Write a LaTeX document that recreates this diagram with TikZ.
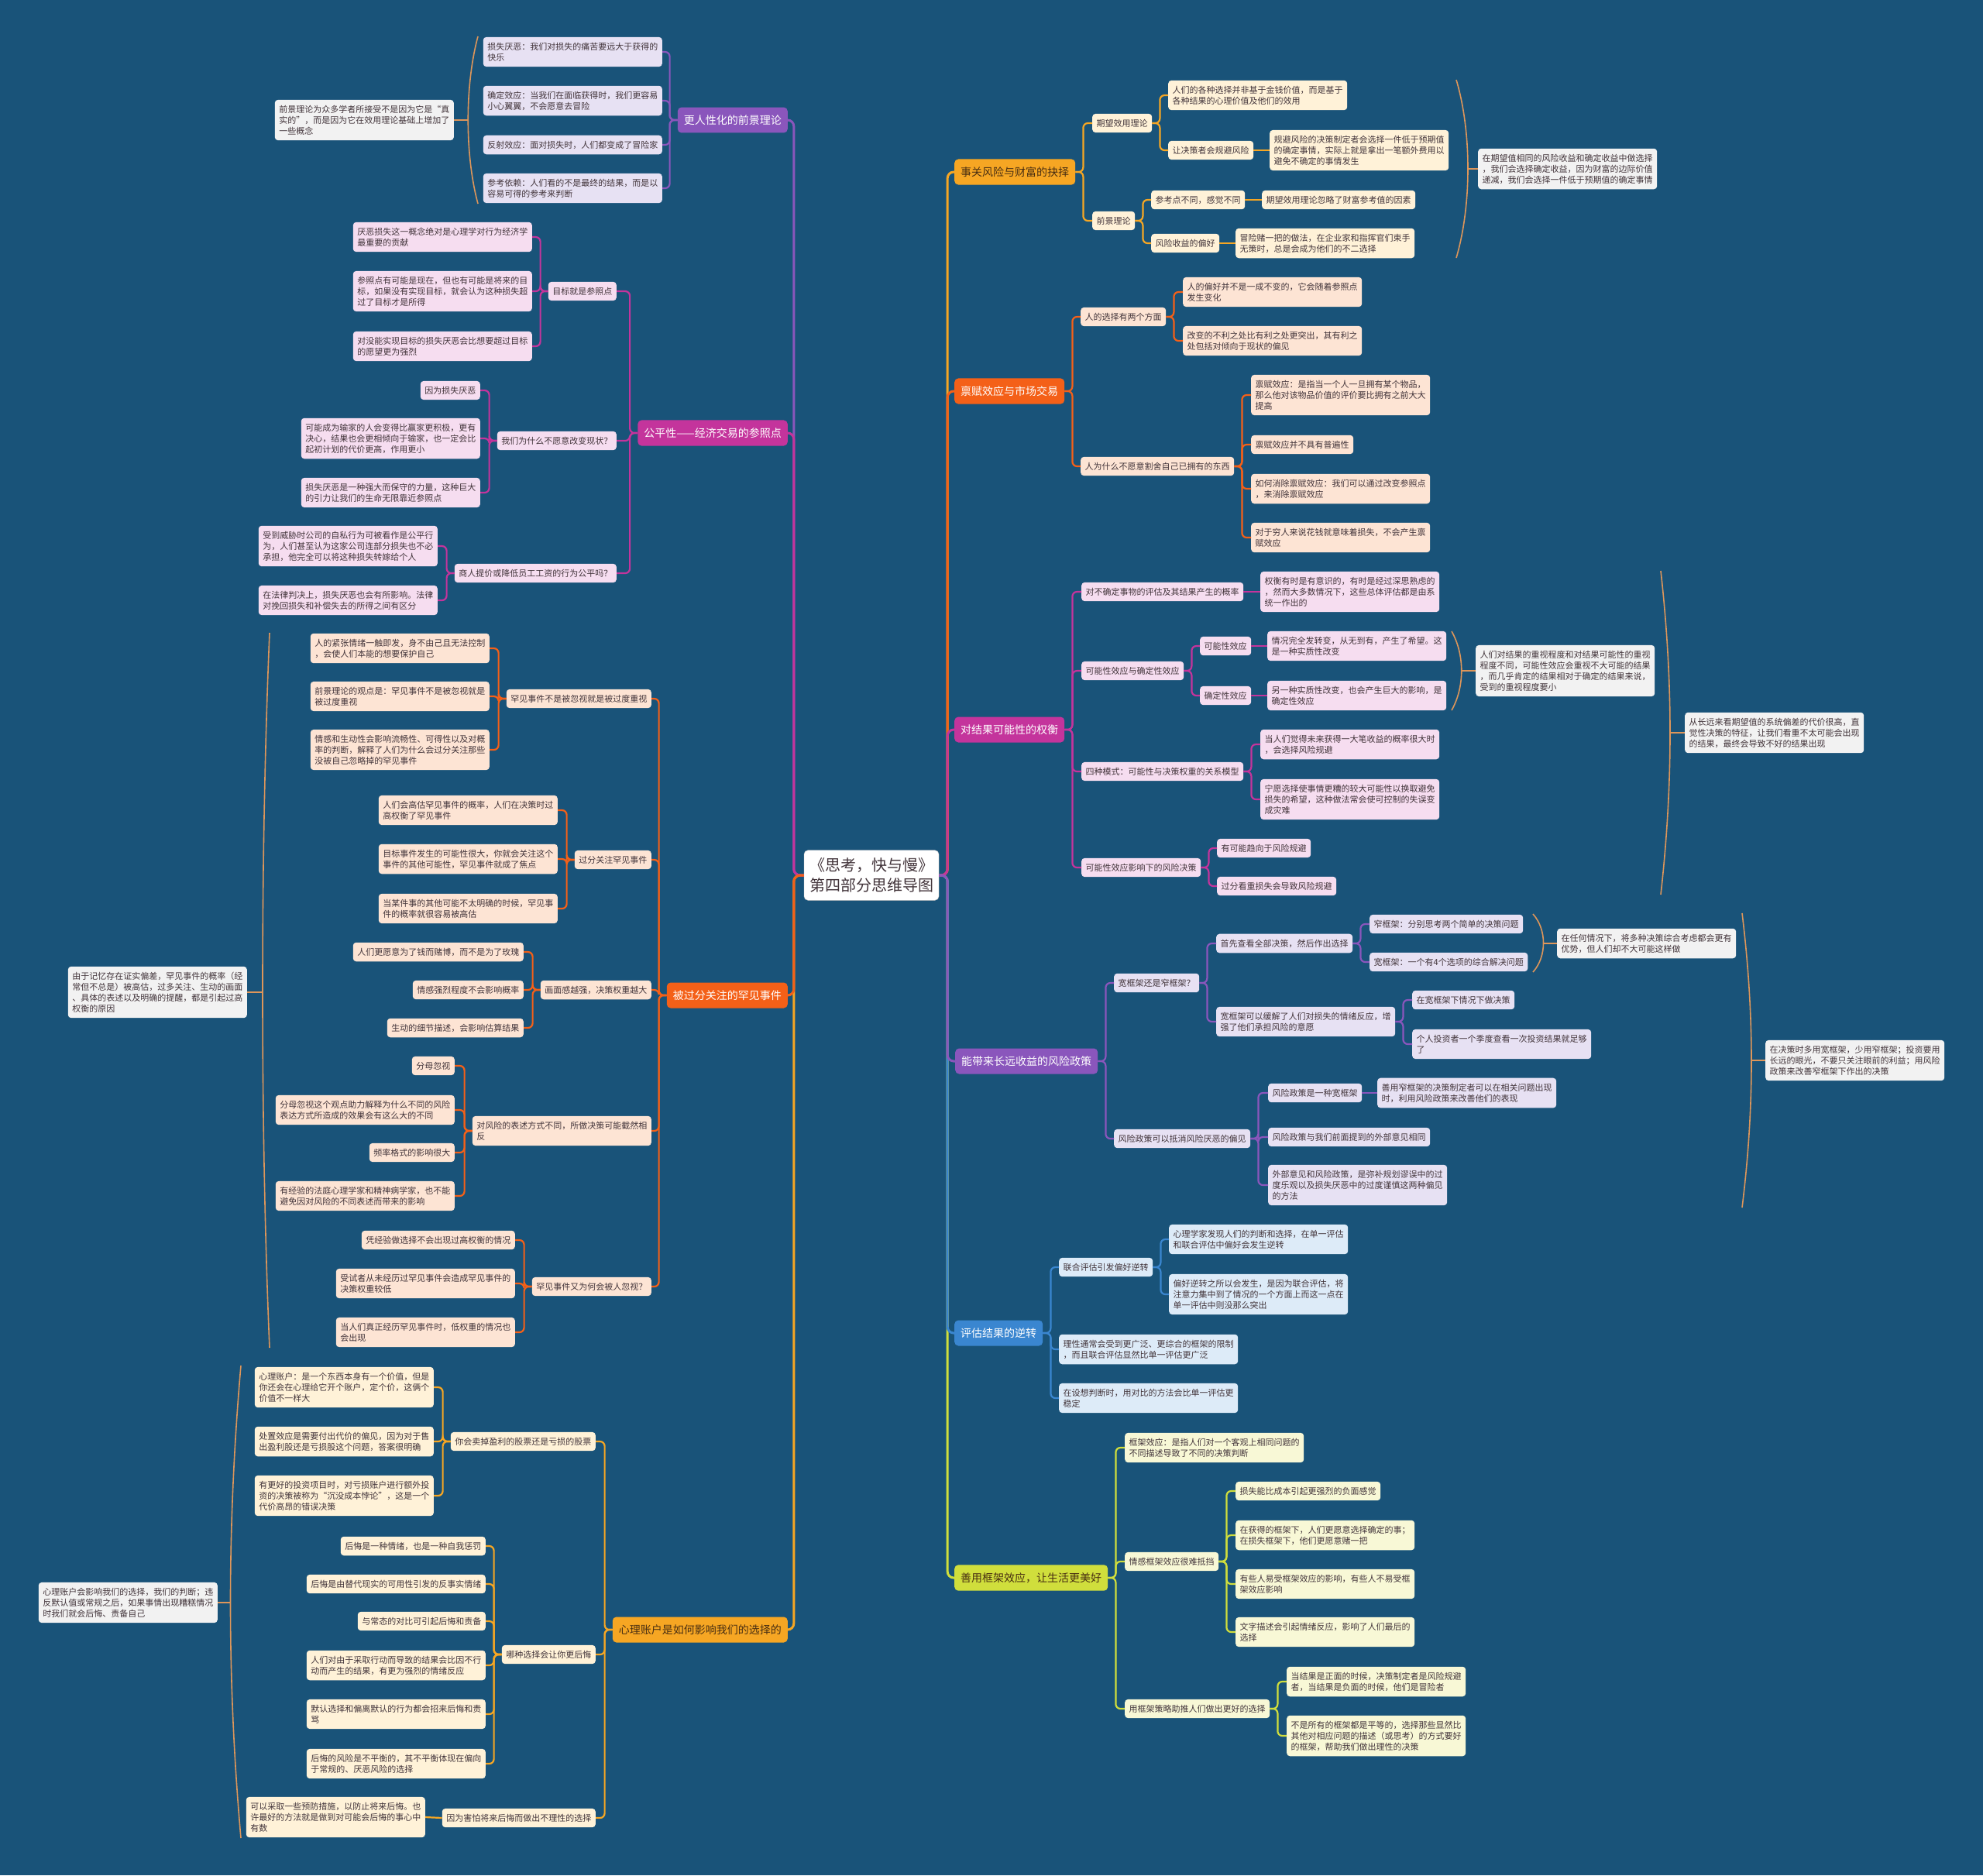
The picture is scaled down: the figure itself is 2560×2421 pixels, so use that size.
\documentclass[tikz,border=0pt]{standalone}
\usepackage{fontspec}
\setmainfont{Noto Sans CJK SC}

\begin{document}
\begin{tikzpicture}[x=1pt,y=-1pt,
  leaf/.style={rounded corners=4pt,align=left,inner xsep=5.5pt,inner ysep=7pt,
    font=\fontsize{11}{14}\selectfont,text=ink},
  head/.style={rounded corners=5pt,inner xsep=8pt,inner ysep=10pt,
    font=\fontsize{14}{17}\selectfont},
  note/.style={leaf,fill=notefill},
  link/.style={line width=2.2pt,rounded corners=6pt},
  trunk/.style={line width=3pt,rounded corners=8pt},
  brace/.style={draw=bracecol,line width=1.6pt}]
\definecolor{bg}{RGB}{25,83,121}
\definecolor{ink}{RGB}{66,52,58}
\definecolor{darkink}{RGB}{72,46,18}
\definecolor{purp}{RGB}{138,86,188}
\definecolor{purpfill}{RGB}{231,225,243}
\definecolor{mag}{RGB}{196,52,156}
\definecolor{magfill}{RGB}{246,221,240}
\definecolor{ored}{RGB}{244,96,24}
\definecolor{oredfill}{RGB}{253,228,212}
\definecolor{amber}{RGB}{246,166,35}
\definecolor{amberfill}{RGB}{255,242,216}
\definecolor{blue}{RGB}{58,134,208}
\definecolor{bluefill}{RGB}{221,235,248}
\definecolor{lime}{RGB}{208,222,60}
\definecolor{limefill}{RGB}{248,248,214}
\definecolor{notefill}{RGB}{242,242,242}
\definecolor{bracecol}{RGB}{222,150,90}

% Background and fixed frame.
\fill[bg] (0,0) rectangle (2560,2421);
\useasboundingbox (0,0) rectangle (2560,2421);

% Root topic in the middle.
\node[draw=gray!50,fill=white,rounded corners=5pt,align=center,text=ink,
  inner xsep=7pt,inner ysep=10pt,font=\fontsize{20}{26}\selectfont]
  (c) at (1125,1130) {《思考，快与慢》\\第四部分思维导图};

% ---------------- left half ----------------
\begin{scope}[every node/.append style={anchor=east}]
% Prospect theory.
\node[head,fill=purp,text=white] (pM) at (1017,155) {更人性化的前景理论};
\node[leaf,fill=purpfill] (pA1) at (855,67) {损失厌恶：我们对损失的痛苦要远大于获得的\\快乐};
\node[leaf,fill=purpfill] (pA2) at (855,130) {确定效应：当我们在面临获得时，我们更容易\\小心翼翼，不会愿意去冒险};
\node[leaf,fill=purpfill] (pA3) at (855,187) {反射效应：面对损失时，人们都变成了冒险家};
\node[leaf,fill=purpfill] (pA4) at (855,243) {参考依赖：人们看的不是最终的结果，而是以\\容易可得的参考来判断};
\node[note] (pN) at (586,155) {前景理论为众多学者所接受不是因为它是“真\\实的”，而是因为它在效用理论基础上增加了\\一些概念};

% Fairness.
\node[head,fill=mag,text=white] (gM) at (1017,559) {公平性——经济交易的参照点};
\node[leaf,fill=magfill] (gA) at (796,376) {目标就是参照点};
\node[leaf,fill=magfill] (gA1) at (687,306) {厌恶损失这一概念绝对是心理学对行为经济学\\最重要的贡献};
\node[leaf,fill=magfill] (gA2) at (687,376) {参照点有可能是现在，但也有可能是将来的目\\标，如果没有实现目标，就会认为这种损失超\\过了目标才是所得};
\node[leaf,fill=magfill] (gA3) at (687,447) {对没能实现目标的损失厌恶会比想要超过目标\\的愿望更为强烈};
\node[leaf,fill=magfill] (gB) at (796,569) {我们为什么不愿意改变现状？};
\node[leaf,fill=magfill] (gB1) at (620,504) {因为损失厌恶};
\node[leaf,fill=magfill] (gB2) at (620,566) {可能成为输家的人会变得比赢家更积极，更有\\决心，结果也会更相倾向于输家，也一定会比\\起初计划的代价更高，作用更小};
\node[leaf,fill=magfill] (gB3) at (620,636) {损失厌恶是一种强大而保守的力量，这种巨大\\的引力让我们的生命无限靠近参照点};
\node[leaf,fill=magfill] (gC) at (796,740) {商人提价或降低员工工资的行为公平吗？};
\node[leaf,fill=magfill] (gC1) at (565,705) {受到威胁时公司的自私行为可被看作是公平行\\为，人们甚至认为这家公司连部分损失也不必\\承担，他完全可以将这种损失转嫁给个人};
\node[leaf,fill=magfill] (gC2) at (565,775) {在法律判决上，损失厌恶也会有所影响。法律\\对挽回损失和补偿失去的所得之间有区分};

% Rare events.
\node[head,fill=ored,text=white] (oM) at (1017,1285) {被过分关注的罕见事件};
\node[leaf,fill=oredfill] (oA) at (841,902) {罕见事件不是被忽视就是被过度重视};
\node[leaf,fill=oredfill] (oA1) at (632,837) {人的紧张情绪一触即发，身不由己且无法控制\\，会使人们本能的想要保护自己};
\node[leaf,fill=oredfill] (oA2) at (632,899) {前景理论的观点是：罕见事件不是被忽视就是\\被过度重视};
\node[leaf,fill=oredfill] (oA3) at (632,968) {情感和生动性会影响流畅性、可得性以及对概\\率的判断，解释了人们为什么会过分关注那些\\没被自己忽略掉的罕见事件};
\node[leaf,fill=oredfill] (oB) at (841,1110) {过分关注罕见事件};
\node[leaf,fill=oredfill] (oB1) at (720,1046) {人们会高估罕见事件的概率，人们在决策时过\\高权衡了罕见事件};
\node[leaf,fill=oredfill] (oB2) at (720,1109) {目标事件发生的可能性很大，你就会关注这个\\事件的其他可能性，罕见事件就成了焦点};
\node[leaf,fill=oredfill] (oB3) at (720,1173) {当某件事的其他可能不太明确的时候，罕见事\\件的概率就很容易被高估};
\node[leaf,fill=oredfill] (oC) at (841,1278) {画面感越强，决策权重越大};
\node[leaf,fill=oredfill] (oC1) at (676,1229) {人们更愿意为了钱而赌博，而不是为了玫瑰};
\node[leaf,fill=oredfill] (oC2) at (676,1278) {情感强烈程度不会影响概率};
\node[leaf,fill=oredfill] (oC3) at (676,1327) {生动的细节描述，会影响估算结果};
\node[leaf,fill=oredfill] (oD) at (841,1460) {对风险的表述方式不同，所做决策可能截然相\\反};
\node[leaf,fill=oredfill] (oD1) at (587,1376) {分母忽视};
\node[leaf,fill=oredfill] (oD2) at (587,1433) {分母忽视这个观点助力解释为什么不同的风险\\表达方式所造成的效果会有这么大的不同};
\node[leaf,fill=oredfill] (oD3) at (587,1488) {频率格式的影响很大};
\node[leaf,fill=oredfill] (oD4) at (587,1544) {有经验的法庭心理学家和精神病学家，也不能\\避免因对风险的不同表述而带来的影响};
\node[leaf,fill=oredfill] (oE) at (841,1661) {罕见事件又为何会被人忽视？};
\node[leaf,fill=oredfill] (oE1) at (665,1601) {凭经验做选择不会出现过高权衡的情况};
\node[leaf,fill=oredfill] (oE2) at (665,1657) {受试者从未经历过罕见事件会造成罕见事件的\\决策权重较低};
\node[leaf,fill=oredfill] (oE3) at (665,1720) {当人们真正经历罕见事件时，低权重的情况也\\会出现};
\node[note] (oN) at (319,1281) {由于记忆存在证实偏差，罕见事件的概率（经\\常但不总是）被高估，过多关注、生动的画面\\、具体的表述以及明确的提醒，都是引起过高\\权衡的原因};

% Mental accounts.
\node[head,fill=amber,text=darkink] (aM) at (1017,2104) {心理账户是如何影响我们的选择的};
\node[leaf,fill=amberfill] (aA) at (769,1861) {你会卖掉盈利的股票还是亏损的股票};
\node[leaf,fill=amberfill] (aA1) at (560,1791) {心理账户：是一个东西本身有一个价值，但是\\你还会在心理给它开个账户，定个价，这俩个\\价值不一样大};
\node[leaf,fill=amberfill] (aA2) at (560,1861) {处置效应是需要付出代价的偏见，因为对于售\\出盈利股还是亏损股这个问题，答案很明确};
\node[leaf,fill=amberfill] (aA3) at (560,1931) {有更好的投资项目时，对亏损账户进行额外投\\资的决策被称为“沉没成本悖论”，这是一个\\代价高昂的错误决策};
\node[leaf,fill=amberfill] (aB) at (769,2136) {哪种选择会让你更后悔};
\node[leaf,fill=amberfill] (aB1) at (627,1996) {后悔是一种情绪，也是一种自我惩罚};
\node[leaf,fill=amberfill] (aB2) at (627,2045) {后悔是由替代现实的可用性引发的反事实情绪};
\node[leaf,fill=amberfill] (aB3) at (627,2093) {与常态的对比可引起后悔和责备};
\node[leaf,fill=amberfill] (aB4) at (627,2150) {人们对由于采取行动而导致的结果会比因不行\\动而产生的结果，有更为强烈的情绪反应};
\node[leaf,fill=amberfill] (aB5) at (627,2213) {默认选择和偏离默认的行为都会招来后悔和责\\骂};
\node[leaf,fill=amberfill] (aB6) at (627,2277) {后悔的风险是不平衡的，其不平衡体现在偏向\\于常规的、厌恶风险的选择};
\node[leaf,fill=amberfill] (aC) at (769,2347) {因为害怕将来后悔而做出不理性的选择};
\node[leaf,fill=amberfill] (aC1) at (549,2346) {可以采取一些预防措施，以防止将来后悔。也\\许最好的方法就是做到对可能会后悔的事心中\\有数};
\node[note] (aN) at (281,2069) {心理账户会影响我们的选择，我们的判断；违\\反默认值或常规之后，如果事情出现糟糕情况\\时我们就会后悔、责备自己};
\end{scope}

% ---------------- right half ----------------
\begin{scope}[every node/.append style={anchor=west}]
% Risk and wealth.
\node[head,fill=amber,text=darkink] (rM) at (1232,222) {事关风险与财富的抉择};
\node[leaf,fill=amberfill] (rA) at (1410,159) {期望效用理论};
\node[leaf,fill=amberfill] (rA1) at (1508,123) {人们的各种选择并非基于金钱价值，而是基于\\各种结果的心理价值及他们的效用};
\node[leaf,fill=amberfill] (rA2) at (1508,194) {让决策者会规避风险};
\node[leaf,fill=amberfill] (rA2a) at (1639,194) {规避风险的决策制定者会选择一件低于预期值\\的确定事情，实际上就是拿出一笔额外费用以\\避免不确定的事情发生};
\node[leaf,fill=amberfill] (rB) at (1410,285) {前景理论};
\node[leaf,fill=amberfill] (rB1) at (1486,258) {参考点不同，感觉不同};
\node[leaf,fill=amberfill] (rB1a) at (1629,258) {期望效用理论忽略了财富参考值的因素};
\node[leaf,fill=amberfill] (rB2) at (1486,314) {风险收益的偏好};
\node[leaf,fill=amberfill] (rB2a) at (1595,314) {冒险赌一把的做法，在企业家和指挥官们束手\\无策时，总是会成为他们的不二选择};
\node[note] (rN) at (1908,218) {在期望值相同的风险收益和确定收益中做选择\\，我们会选择确定收益，因为财富的边际价值\\递减，我们会选择一件低于预期值的确定事情};

% Endowment effect.
\node[head,fill=ored,text=white] (eM) at (1232,505) {禀赋效应与市场交易};
\node[leaf,fill=oredfill] (eA) at (1395,409) {人的选择有两个方面};
\node[leaf,fill=oredfill] (eA1) at (1527,377) {人的偏好并不是一成不变的，它会随着参照点\\发生变化};
\node[leaf,fill=oredfill] (eA2) at (1527,440) {改变的不利之处比有利之处更突出，其有利之\\处包括对倾向于现状的偏见};
\node[leaf,fill=oredfill] (eB) at (1395,602) {人为什么不愿意割舍自己已拥有的东西};
\node[leaf,fill=oredfill] (eB1) at (1615,510) {禀赋效应：是指当一个人一旦拥有某个物品，\\那么他对该物品价值的评价要比拥有之前大大\\提高};
\node[leaf,fill=oredfill] (eB2) at (1615,574) {禀赋效应并不具有普遍性};
\node[leaf,fill=oredfill] (eB3) at (1615,631) {如何消除禀赋效应：我们可以通过改变参照点\\，来消除禀赋效应};
\node[leaf,fill=oredfill] (eB4) at (1615,694) {对于穷人来说花钱就意味着损失，不会产生禀\\赋效应};

% Weighing outcomes.
\node[head,fill=mag,text=white] (wM) at (1232,942) {对结果可能性的权衡};
\node[leaf,fill=magfill] (wA) at (1396,764) {对不确定事物的评估及其结果产生的概率};
\node[leaf,fill=magfill] (wA1) at (1627,764) {权衡有时是有意识的，有时是经过深思熟虑的\\，然而大多数情况下，这些总体评估都是由系\\统一作出的};
\node[leaf,fill=magfill] (wB) at (1396,866) {可能性效应与确定性效应};
\node[leaf,fill=magfill] (wB1) at (1549,834) {可能性效应};
\node[leaf,fill=magfill] (wB1a) at (1636,834) {情况完全发转变，从无到有，产生了希望。这\\是一种实质性改变};
\node[leaf,fill=magfill] (wB2) at (1549,898) {确定性效应};
\node[leaf,fill=magfill] (wB2a) at (1636,898) {另一种实质性改变，也会产生巨大的影响，是\\确定性效应};
\node[leaf,fill=magfill] (wC) at (1396,996) {四种模式：可能性与决策权重的关系模型};
\node[leaf,fill=magfill] (wC1) at (1627,961) {当人们觉得未来获得一大笔收益的概率很大时\\，会选择风险规避};
\node[leaf,fill=magfill] (wC2) at (1627,1032) {宁愿选择使事情更糟的较大可能性以换取避免\\损失的希望，这种做法常会使可控制的失误变\\成灾难};
\node[leaf,fill=magfill] (wD) at (1396,1120) {可能性效应影响下的风险决策};
\node[leaf,fill=magfill] (wD1) at (1571,1095) {有可能趋向于风险规避};
\node[leaf,fill=magfill] (wD2) at (1571,1144) {过分看重损失会导致风险规避};
\node[note] (wN1) at (1905,866) {人们对结果的重视程度和对结果可能性的重视\\程度不同，可能性效应会重视不大可能的结果\\，而几乎肯定的结果相对于确定的结果来说，\\受到的重视程度要小};
\node[note] (wN2) at (2175,946) {从长远来看期望值的系统偏差的代价很高，直\\觉性决策的特征，让我们看重不太可能会出现\\的结果，最终会导致不好的结果出现};

% Risk policies.
\node[head,fill=purp,text=white] (vM) at (1233,1370) {能带来长远收益的风险政策};
\node[leaf,fill=purpfill] (vA) at (1438,1269) {宽框架还是窄框架？};
\node[leaf,fill=purpfill] (vA1) at (1570,1218) {首先查看全部决策，然后作出选择};
\node[leaf,fill=purpfill] (vA1a) at (1768,1193) {窄框架：分别思考两个简单的决策问题};
\node[leaf,fill=purpfill] (vA1b) at (1768,1242) {宽框架：一个有4个选项的综合解决问题};
\node[leaf,fill=purpfill] (vA2) at (1570,1319) {宽框架可以缓解了人们对损失的情绪反应，增\\强了他们承担风险的意愿};
\node[leaf,fill=purpfill] (vA2a) at (1823,1291) {在宽框架下情况下做决策};
\node[leaf,fill=purpfill] (vA2b) at (1823,1348) {个人投资者一个季度查看一次投资结果就足够\\了};
\node[leaf,fill=purpfill] (vB) at (1438,1470) {风险政策可以抵消风险厌恶的偏见};
\node[leaf,fill=purpfill] (vB1) at (1637,1411) {风险政策是一种宽框架};
\node[leaf,fill=purpfill] (vB1a) at (1778,1411) {善用窄框架的决策制定者可以在相关问题出现\\时，利用风险政策来改善他们的表现};
\node[leaf,fill=purpfill] (vB2) at (1637,1468) {风险政策与我们前面提到的外部意见相同};
\node[leaf,fill=purpfill] (vB3) at (1637,1530) {外部意见和风险政策，是弥补规划谬误中的过\\度乐观以及损失厌恶中的过度谨慎这两种偏见\\的方法};
\node[note] (vN1) at (2010,1218) {在任何情况下，将多种决策综合考虑都会更有\\优势，但人们却不大可能这样做};
\node[note] (vN2) at (2279,1369) {在决策时多用宽框架，少用窄框架；投资要用\\长远的眼光，不要只关注眼前的利益；用风险\\政策来改善窄框架下作出的决策};

% Preference reversals.
\node[head,fill=blue,text=white] (bM) at (1232,1721) {评估结果的逆转};
\node[leaf,fill=bluefill] (bA) at (1367,1636) {联合评估引发偏好逆转};
\node[leaf,fill=bluefill] (bA1) at (1509,1600) {心理学家发现人们的判断和选择，在单一评估\\和联合评估中偏好会发生逆转};
\node[leaf,fill=bluefill] (bA2) at (1509,1671) {偏好逆转之所以会发生，是因为联合评估，将\\注意力集中到了情况的一个方面上而这一点在\\单一评估中则没那么突出};
\node[leaf,fill=bluefill] (bB) at (1367,1742) {理性通常会受到更广泛、更综合的框架的限制\\，而且联合评估显然比单一评估更广泛};
\node[leaf,fill=bluefill] (bC) at (1367,1805) {在设想判断时，用对比的方法会比单一评估更\\稳定};

% Framing effects.
\node[head,fill=lime,text=darkink] (yM) at (1232,2037) {善用框架效应，让生活更美好};
\node[leaf,fill=limefill] (yA) at (1452,1869) {框架效应：是指人们对一个客观上相同问题的\\不同描述导致了不同的决策判断};
\node[leaf,fill=limefill] (yB) at (1452,2016) {情感框架效应很难抵挡};
\node[leaf,fill=limefill] (yB1) at (1595,1925) {损失能比成本引起更强烈的负面感觉};
\node[leaf,fill=limefill] (yB2) at (1595,1982) {在获得的框架下，人们更愿意选择确定的事；\\在损失框架下，他们更愿意赌一把};
\node[leaf,fill=limefill] (yB3) at (1595,2045) {有些人易受框架效应的影响，有些人不易受框\\架效应影响};
\node[leaf,fill=limefill] (yB4) at (1595,2107) {文字描述会引起情绪反应，影响了人们最后的\\选择};
\node[leaf,fill=limefill] (yC) at (1452,2206) {用框架策略助推人们做出更好的选择};
\node[leaf,fill=limefill] (yC1) at (1661,2171) {当结果是正面的时候，决策制定者是风险规避\\者，当结果是负面的时候，他们是冒险者};
\node[leaf,fill=limefill] (yC2) at (1661,2241) {不是所有的框架都是平等的，选择那些显然比\\其他对相应问题的描述（或思考）的方式要好\\的框架，帮助我们做出理性的决策};
\end{scope}

% Trunk lines from the root, outer branches first.
\foreach \m/\col in {pM/purp,aM/amber,gM/mag,oM/ored}
  \draw[trunk,draw=\col] (c.west) -- ++(-13,0) |- (\m.east);
\foreach \m/\col in {rM/amber,yM/lime,eM/ored,bM/blue,wM/mag,vM/purp}
  \draw[trunk,draw=\col] (c.east) -- ++(11,0) |- (\m.west);

% Left connectors.
\foreach \n in {pA1,pA2,pA3,pA4} \draw[link,draw=purp] (pM.west) -- ++(-10,0) |- (\n.east);
\foreach \n in {gA,gB,gC} \draw[link,draw=mag] (gM.west) -- ++(-10,0) |- (\n.east);
\foreach \n in {gA1,gA2,gA3} \draw[link,draw=mag] (gA.west) -- ++(-10,0) |- (\n.east);
\foreach \n in {gB1,gB2,gB3} \draw[link,draw=mag] (gB.west) -- ++(-10,0) |- (\n.east);
\foreach \n in {gC1,gC2} \draw[link,draw=mag] (gC.west) -- ++(-10,0) |- (\n.east);
\foreach \n in {oA,oB,oC,oD,oE} \draw[link,draw=ored] (oM.west) -- ++(-10,0) |- (\n.east);
\foreach \n in {oA1,oA2,oA3} \draw[link,draw=ored] (oA.west) -- ++(-10,0) |- (\n.east);
\foreach \n in {oB1,oB2,oB3} \draw[link,draw=ored] (oB.west) -- ++(-10,0) |- (\n.east);
\foreach \n in {oC1,oC2,oC3} \draw[link,draw=ored] (oC.west) -- ++(-10,0) |- (\n.east);
\foreach \n in {oD1,oD2,oD3,oD4} \draw[link,draw=ored] (oD.west) -- ++(-10,0) |- (\n.east);
\foreach \n in {oE1,oE2,oE3} \draw[link,draw=ored] (oE.west) -- ++(-10,0) |- (\n.east);
\foreach \n in {aA,aB,aC} \draw[link,draw=amber] (aM.west) -- ++(-10,0) |- (\n.east);
\foreach \n in {aA1,aA2,aA3} \draw[link,draw=amber] (aA.west) -- ++(-10,0) |- (\n.east);
\foreach \n in {aB1,aB2,aB3,aB4,aB5,aB6} \draw[link,draw=amber] (aB.west) -- ++(-10,0) |- (\n.east);
\draw[link,draw=amber] (aC.west) -- (aC1.east);

% Right connectors.
\foreach \n in {rA,rB} \draw[link,draw=amber] (rM.east) -- ++(10,0) |- (\n.west);
\foreach \n in {rA1,rA2} \draw[link,draw=amber] (rA.east) -- ++(10,0) |- (\n.west);
\foreach \n in {rB1,rB2} \draw[link,draw=amber] (rB.east) -- ++(10,0) |- (\n.west);
\draw[link,draw=amber] (rA2.east) -- (rA2a.west);
\draw[link,draw=amber] (rB1.east) -- (rB1a.west);
\draw[link,draw=amber] (rB2.east) -- (rB2a.west);
\foreach \n in {eA,eB} \draw[link,draw=ored] (eM.east) -- ++(10,0) |- (\n.west);
\foreach \n in {eA1,eA2} \draw[link,draw=ored] (eA.east) -- ++(10,0) |- (\n.west);
\foreach \n in {eB1,eB2,eB3,eB4} \draw[link,draw=ored] (eB.east) -- ++(10,0) |- (\n.west);
\foreach \n in {wA,wB,wC,wD} \draw[link,draw=mag] (wM.east) -- ++(10,0) |- (\n.west);
\draw[link,draw=mag] (wA.east) -- (wA1.west);
\foreach \n in {wB1,wB2} \draw[link,draw=mag] (wB.east) -- ++(10,0) |- (\n.west);
\draw[link,draw=mag] (wB1.east) -- (wB1a.west);
\draw[link,draw=mag] (wB2.east) -- (wB2a.west);
\foreach \n in {wC1,wC2} \draw[link,draw=mag] (wC.east) -- ++(10,0) |- (\n.west);
\foreach \n in {wD1,wD2} \draw[link,draw=mag] (wD.east) -- ++(10,0) |- (\n.west);
\foreach \n in {vA,vB} \draw[link,draw=purp] (vM.east) -- ++(10,0) |- (\n.west);
\foreach \n in {vA1,vA2} \draw[link,draw=purp] (vA.east) -- ++(10,0) |- (\n.west);
\foreach \n in {vA1a,vA1b} \draw[link,draw=purp] (vA1.east) -- ++(10,0) |- (\n.west);
\foreach \n in {vA2a,vA2b} \draw[link,draw=purp] (vA2.east) -- ++(10,0) |- (\n.west);
\foreach \n in {vB1,vB2,vB3} \draw[link,draw=purp] (vB.east) -- ++(10,0) |- (\n.west);
\draw[link,draw=purp] (vB1.east) -- (vB1a.west);
\foreach \n in {bA,bB,bC} \draw[link,draw=blue] (bM.east) -- ++(10,0) |- (\n.west);
\foreach \n in {bA1,bA2} \draw[link,draw=blue] (bA.east) -- ++(10,0) |- (\n.west);
\foreach \n in {yA,yB,yC} \draw[link,draw=lime] (yM.east) -- ++(10,0) |- (\n.west);
\foreach \n in {yB1,yB2,yB3,yB4} \draw[link,draw=lime] (yB.east) -- ++(10,0) |- (\n.west);
\foreach \n in {yC1,yC2} \draw[link,draw=lime] (yC.east) -- ++(10,0) |- (\n.west);

% Summary brackets with their ticks.
\draw[brace] (617,47) .. controls (600,110) and (600,200) .. (617,263);
\coordinate (pT) at (604,155);
\draw[brace] (pT) -- (pN.east);
\draw[brace] (348,817) .. controls (336,1100) and (336,1460) .. (348,1740);
\coordinate (oT) at (339,1281);
\draw[brace] (oT) -- (oN.east);
\draw[brace] (311,1763) .. controls (293,1970) and (293,2170) .. (311,2373);
\coordinate (aT) at (297,2069);
\draw[brace] (aT) -- (aN.east);
\draw[brace] (1880,103) .. controls (1900,170) and (1900,265) .. (1880,333);
\coordinate (rT) at (1895,218);
\draw[brace] (rT) -- (rN.west);
\draw[brace] (1874,815) .. controls (1891,845) and (1891,887) .. (1874,917);
\coordinate (wT1) at (1887,866);
\draw[brace] (wT1) -- (wN1.west);
\draw[brace] (2144,737) .. controls (2160,880) and (2160,1012) .. (2144,1155);
\coordinate (wT2) at (2156,946);
\draw[brace] (wT2) -- (wN2.west);
\draw[brace] (1979,1180) .. controls (1997,1200) and (1997,1235) .. (1979,1255);
\coordinate (vT1) at (1992,1218);
\draw[brace] (vT1) -- (vN1.west);
\draw[brace] (2249,1179) .. controls (2265,1310) and (2265,1430) .. (2249,1559);
\coordinate (vT2) at (2261,1369);
\draw[brace] (vT2) -- (vN2.west);

\end{tikzpicture}
\end{document}
